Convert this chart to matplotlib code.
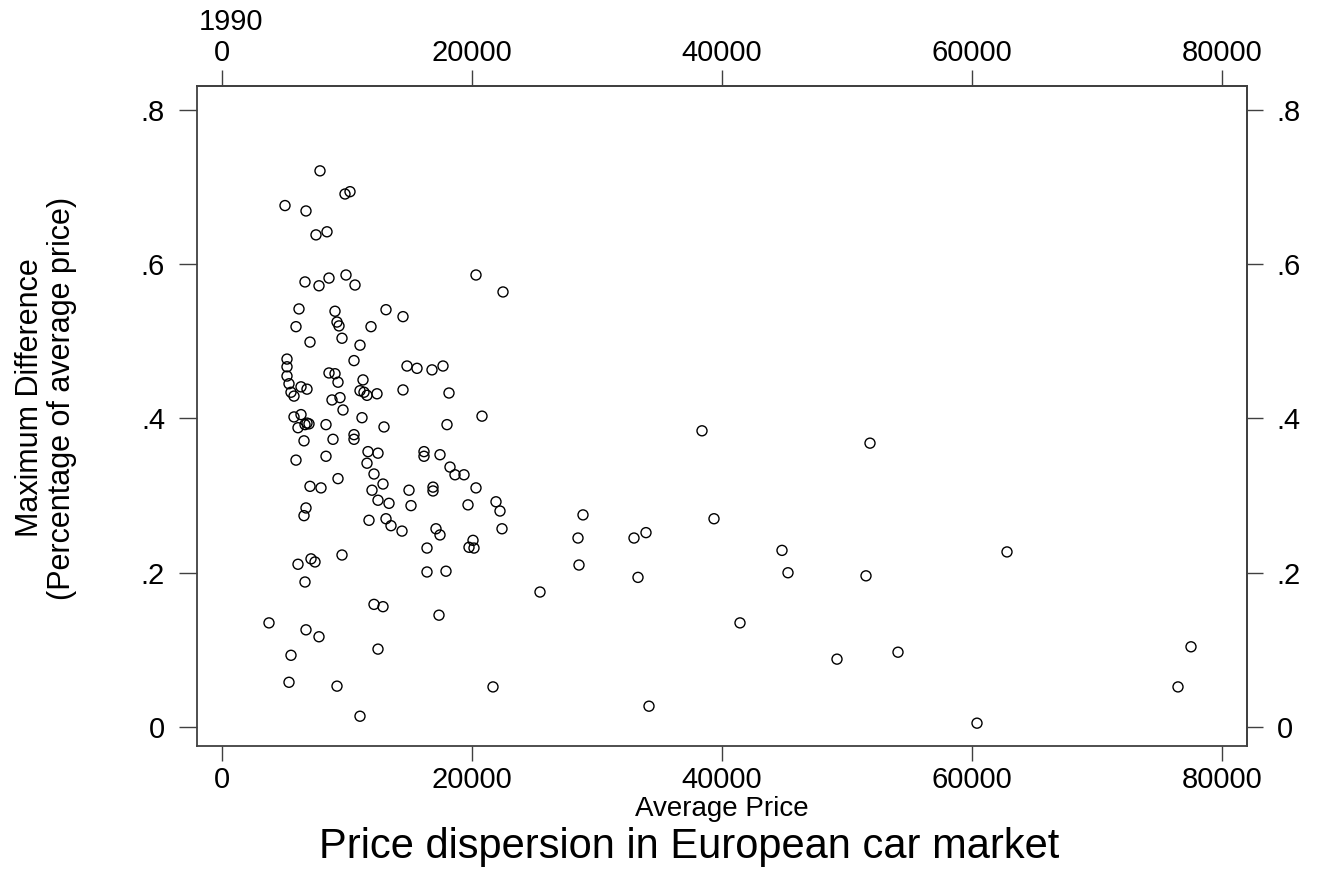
import matplotlib
matplotlib.use("Agg")
import matplotlib.pyplot as plt
from matplotlib.ticker import FuncFormatter

plt.rcParams['font.family'] = ['Liberation Sans', 'DejaVu Sans']

# average price per model (1990) and max price difference as share of average
avg_price = [7840, 9840, 10240, 5040, 6720, 7520, 8400, 6640, 7760, 8560,
             9920, 10640, 6160, 9040, 13120, 14480, 5920, 9200, 9360, 11920,
             7040, 9600, 11040, 5200, 5200, 10560, 14800, 15600, 16800, 17680,
             5200, 8560, 9040, 9280, 11280, 5360, 6320, 6800, 5520, 5760,
             14480, 11040, 11360, 11600, 12400, 18160, 8800, 9440, 9680, 5760,
             6320, 6080, 6640, 6800, 6960, 8320, 11200, 12960, 20800, 18000,
             10560, 10560, 6560, 8880, 38400, 51840, 11680, 12480, 16160, 16160,
             17440, 5920, 8320, 11600, 18240, 18640, 19360, 12160, 9280, 12880,
             7040, 7920, 12000, 14960, 16880, 16880, 20320, 12480, 13360, 15120,
             19680, 21920, 22240, 28880, 6720, 6560, 11760, 13120, 39360, 13520,
             14400, 17120, 17440, 22400, 33920, 32960, 28480, 20080, 19760, 20160,
             16400, 9600, 7120, 7440, 6080, 44800, 62800, 16400, 17920, 28560,
             33280, 45280, 51520, 6640, 25440, 12160, 12880, 17360, 3760, 6720,
             7760, 41440, 12480, 77520, 5520, 54080, 49200, 5360, 9200, 21680,
             76480, 34160, 11040, 60400, 20320, 22480]

max_diff = [0.721, 0.691, 0.694, 0.676, 0.669, 0.638, 0.642, 0.577, 0.572, 0.582,
            0.586, 0.573, 0.542, 0.539, 0.541, 0.532, 0.519, 0.525, 0.520, 0.519,
            0.499, 0.504, 0.495, 0.477, 0.467, 0.475, 0.468, 0.465, 0.463, 0.468,
            0.455, 0.459, 0.458, 0.447, 0.450, 0.445, 0.441, 0.438, 0.434, 0.429,
            0.437, 0.436, 0.434, 0.430, 0.432, 0.433, 0.424, 0.427, 0.411, 0.402,
            0.405, 0.388, 0.392, 0.394, 0.393, 0.392, 0.401, 0.389, 0.403, 0.392,
            0.379, 0.373, 0.371, 0.373, 0.384, 0.368, 0.357, 0.355, 0.357, 0.351,
            0.353, 0.346, 0.351, 0.342, 0.337, 0.327, 0.327, 0.328, 0.322, 0.315,
            0.312, 0.310, 0.307, 0.307, 0.311, 0.306, 0.310, 0.294, 0.290, 0.287,
            0.288, 0.292, 0.280, 0.275, 0.284, 0.274, 0.268, 0.270, 0.270, 0.261,
            0.254, 0.257, 0.249, 0.257, 0.252, 0.245, 0.245, 0.242, 0.233, 0.232,
            0.232, 0.223, 0.218, 0.214, 0.211, 0.229, 0.227, 0.201, 0.202, 0.210,
            0.194, 0.200, 0.196, 0.188, 0.175, 0.159, 0.156, 0.145, 0.135, 0.126,
            0.117, 0.135, 0.101, 0.104, 0.093, 0.097, 0.088, 0.058, 0.053, 0.052,
            0.052, 0.027, 0.014, 0.005, 0.586, 0.564]

x_ticks = [0, 20000, 40000, 60000, 80000]
y_ticks = [0, 0.2, 0.4, 0.6, 0.8]

frame = '#404040'


def frac_fmt(v, pos):
    # Stata style: .2, .4 ... and a plain 0
    return '0' if abs(v) < 1e-9 else f'{v:.1f}'.lstrip('0')


fig = plt.figure(figsize=(13.22, 8.75), dpi=100)
ax = fig.add_axes([197 / 1322, 1 - 746 / 875, 1050 / 1322, 660 / 875])

ax.scatter(avg_price, max_diff, s=52, facecolors='none', edgecolors='black',
           linewidths=1.0, zorder=3)

ax.set_xlim(-2000, 82000)
ax.set_ylim(-0.0246, 0.831)
ax.set_xticks(x_ticks)
ax.set_yticks(y_ticks)
ax.yaxis.set_major_formatter(FuncFormatter(frac_fmt))

ax.tick_params(axis='x', direction='out', length=10.5, width=1, color=frame,
               pad=4, labelsize=21)
ax.tick_params(axis='y', direction='out', length=13, width=1, color=frame,
               pad=10, labelsize=21)

# mirrored axes on top and right
top = ax.secondary_xaxis('top')
top.set_xticks(x_ticks)
top.tick_params(direction='out', length=11.5, width=1, color=frame, pad=2,
                labelsize=21)
right = ax.secondary_yaxis('right')
right.set_yticks(y_ticks)
right.yaxis.set_major_formatter(FuncFormatter(frac_fmt))
right.tick_params(direction='out', length=11.5, width=1, color=frame, pad=10,
                  labelsize=21)

for a in (ax, top, right):
    for sp in a.spines.values():
        sp.set_color(frame)
        sp.set_linewidth(1.3)

fig.text(231 / 1322, 1 - 22 / 875, '1990', fontsize=21, ha='center', va='center')
fig.text(722 / 1322, 1 - 809 / 875, 'Average Price', fontsize=20,
         ha='center', va='center')
fig.text(46 / 1322, 1 - 398 / 875,
         'Maximum Difference\n(Percentage of average price)',
         fontsize=22, rotation=90, ha='center', va='center', linespacing=1.05)
fig.text(689 / 1322, 1 - 847 / 875, 'Price dispersion in European car market',
         fontsize=30, ha='center', va='center')

fig.savefig('out.png', dpi=100)
